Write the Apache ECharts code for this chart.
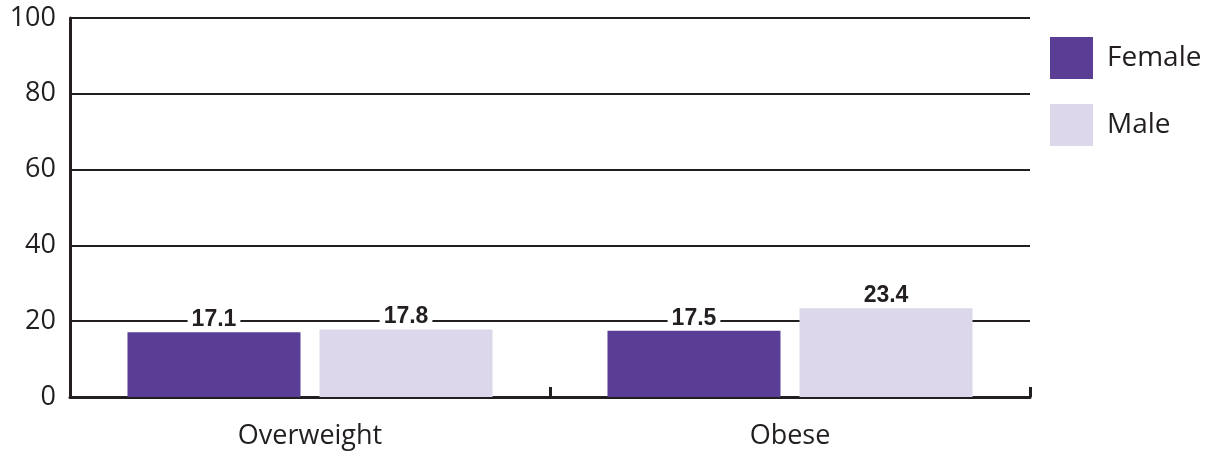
<!DOCTYPE html>
<html>
<head>
<meta charset="utf-8">
<script src="https://cdn.jsdelivr.net/npm/echarts@6/dist/echarts.min.js"></script>
<style>
  html, body { margin: 0; padding: 0; background: #fff; }
  #chart { width: 1213px; height: 455px; }
</style>
</head>
<body>
<div id="chart"></div>
<script>
const categories = ["Overweight", "Obese"];
const female = [17.1, 17.5];
const male = [17.8, 23.4];
const yTicks = [0, 20, 40, 60, 80, 100];

const chart = echarts.init(document.getElementById("chart"));
const ink = "#231f20";
const labelStyle = {
  show: true,
  position: "top",
  distance: 1,
  color: ink,
  fontFamily: "Liberation Sans",
  fontWeight: "bold",
  fontSize: 23,
  backgroundColor: "#fff",
  padding: [0, 4, 0, 4],
};

chart.setOption({
  animation: false,
  grid: { left: 70, right: 183, top: 18, bottom: 58 },
  legend: {
    orient: "vertical",
    left: 1045,
    top: 32,
    itemWidth: 43,
    itemHeight: 42,
    itemGap: 25,
    icon: "rect",
    textStyle: { color: ink, fontFamily: "Open Sans", fontSize: 28, padding: [0, 0, 0, 9] },
    data: ["Female", "Male"],
  },
  xAxis: {
    type: "category",
    data: categories,
    axisLine: { lineStyle: { color: ink, width: 3 } },
    axisTick: { show: true, inside: true, length: 10, lineStyle: { color: ink, width: 3 } },
    axisLabel: { color: ink, fontFamily: "Open Sans", fontSize: 27, margin: 26 },
  },
  yAxis: {
    type: "value",
    min: yTicks[0],
    max: yTicks[yTicks.length - 1],
    interval: 20,
    axisLine: { show: true, lineStyle: { color: ink, width: 3 } },
    axisTick: { show: false },
    splitLine: { lineStyle: { color: ink, width: 2 } },
    axisLabel: { color: ink, fontFamily: "Open Sans", fontSize: 27, margin: 14 },
  },
  series: [
    {
      name: "Female",
      type: "bar",
      data: female,
      barWidth: 173,
      barGap: "11%",
      itemStyle: { color: "#5a3e96" },
      label: labelStyle,
    },
    {
      name: "Male",
      type: "bar",
      data: male,
      barWidth: 173,
      itemStyle: { color: "#dcd7ea" },
      label: labelStyle,
    },
  ],
});
</script>
</body>
</html>
